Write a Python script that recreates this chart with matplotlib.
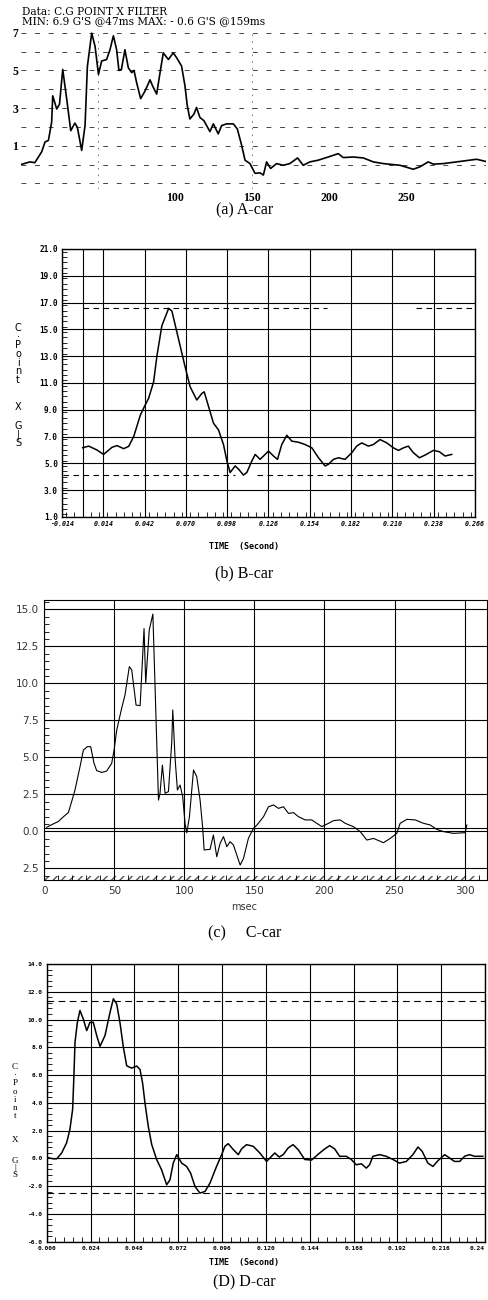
"""Four crash-pulse panels (A/B/C/D car), C.G point X deceleration, redrawn from the scan."""

import matplotlib
matplotlib.use("Agg")
import matplotlib.pyplot as plt
from matplotlib.ticker import MultipleLocator

# ---- (a) A-car : time [ms] vs G
a_t = [0, 5.8, 9, 13.4, 15.6, 17.8, 19.9, 20.6, 23.2, 25, 27.1, 29.7, 32.3, 35, 36.6, 39.4,
       41.6, 43.1, 45.9, 48.1, 50.3, 52.4, 55.6, 57.8, 60, 62.1, 63.6, 65.2, 67.5, 69.7, 71.9,
       73.4, 75.1, 77.7, 80.5, 83.8, 85.5, 88.1, 90.3, 92.4, 95.7, 98.9, 101.1, 104.3, 106.5,
       108, 109.7, 112.3, 114, 116.2, 118.8, 122.7, 124.9, 128.1, 130.3, 133.5, 137.9, 140.5,
       143.3, 145.5, 148.7, 152, 155.2, 157.4, 159.5, 162.1, 166, 170.3, 174.6, 179.6, 183.3,
       187.6, 193, 199.5, 202.8, 206, 209.3, 215.8, 222.3, 228.8, 235.3, 246.1, 254.8, 259.1,
       264.5, 267.8, 274.3, 282.9, 295.9, 302]
a_g = [0.0, 0.14, 0.1, 0.67, 1.2, 1.28, 2.25, 3.65, 2.95, 3.2, 5.05, 3.47, 1.8, 2.2, 1.98, 0.75,
       2.07, 5.2, 6.98, 6.28, 4.79, 5.5, 5.58, 6.1, 6.84, 6.1, 5.0, 5.05, 6.1, 5.14, 4.88,
       5.0, 4.35, 3.5, 3.9, 4.5, 4.17, 3.74, 4.88, 5.93, 5.58, 5.93, 5.67, 5.23, 4.17,
       3.12, 2.42, 2.68, 3.03, 2.5, 2.33, 1.75, 2.16, 1.63, 2.07, 2.16, 2.16, 1.89,
       1.02, 0.23, 0.05, -0.47, -0.44, -0.56, 0.14, -0.21, 0.05, -0.04, 0.05, 0.35, -0.04,
       0.14, 0.23, 0.4, 0.49, 0.58, 0.37, 0.4, 0.35, 0.14, 0.05, -0.04, -0.25, -0.12,
       0.14, 0.02, 0.05, 0.14, 0.28, 0.16]
a_yticks = [7, 5, 3, 1]
a_xticks = [100, 150, 200, 250]
a_title = ["Data: C.G POINT X FILTER", "MIN: 6.9 G'S @47ms MAX: - 0.6 G'S @159ms"]

# ---- (b) B-car : time [s] vs G
b_t = [0.0, 0.0041, 0.0097, 0.0142, 0.0199, 0.0233, 0.0278, 0.0312, 0.0346, 0.0391, 0.0418,
       0.0447, 0.0481, 0.0504, 0.0537, 0.0583, 0.0605, 0.065, 0.0695, 0.0729, 0.0774, 0.0808,
       0.0824, 0.0854, 0.0887, 0.0921, 0.0955, 0.0978, 0.100, 0.1034, 0.1057, 0.109, 0.1113,
       0.1147, 0.117, 0.1203, 0.126, 0.1294, 0.1321, 0.135, 0.1384, 0.1418, 0.1463, 0.1508,
       0.1554, 0.1599, 0.1644, 0.1666, 0.17, 0.1734, 0.1779, 0.1825, 0.1858, 0.1892, 0.1937,
       0.1971, 0.2016, 0.2062, 0.2107, 0.2141, 0.2175, 0.2208, 0.2242, 0.2283, 0.2321, 0.2378,
       0.2419, 0.2457, 0.2502]
b_g = [6.17, 6.29, 6.0, 5.67, 6.2, 6.33, 6.1, 6.27, 7.0, 8.6, 9.23,
       9.85, 11.08, 13.05, 15.27, 16.57, 16.37, 14.28, 12.19, 10.71, 9.73, 10.22,
       10.34, 9.23, 8.0, 7.5, 6.4, 5.18, 4.32, 4.81, 4.57, 4.13, 4.32,
       5.18, 5.67, 5.3, 5.92, 5.55, 5.3, 6.41, 7.1, 6.66, 6.58, 6.41,
       6.16, 5.42, 4.81, 4.93, 5.3, 5.42, 5.3, 5.8, 6.29, 6.53, 6.29,
       6.41, 6.78, 6.53, 6.16, 5.97, 6.16, 6.29, 5.8, 5.42, 5.62, 5.97,
       5.87, 5.55, 5.67]
b_xticks = [-0.014, 0.014, 0.042, 0.070, 0.098, 0.126, 0.154, 0.182, 0.210, 0.238, 0.266]
b_yticks = [1, 3, 5, 7, 9, 11, 13, 15, 17, 19, 21]
b_upper_level, b_upper_spans = 16.6, [(0.0, 0.166), (0.226, 0.266)]
b_lower_level, b_lower_spans = 4.15, [(-0.013, 0.103), (0.118, 0.266)]

# ---- (c) C-car : time [ms] vs G
c_t = [1.7, 6.4, 10, 13.6, 17.2, 19.5, 21.9, 25.5, 27.9, 30.7, 33.1, 35.5, 37.4, 41, 44.5,
       48.1, 49.8, 51.7, 55.2, 57.6, 60.7, 62.4, 65.5, 68.4, 71.2, 72.4, 74.9, 77.5, 81.5,
       82.6, 84.3, 86.2, 88.6, 91, 91.7, 93.3, 95, 96.9, 98.8, 100.5, 101.7, 103.6, 106.5,
       108.8, 111.2, 113, 114.1, 118.3, 120.7, 123.1, 125.5, 127.9, 130.3, 132.6, 135, 137.4,
       139.8, 142.2, 145.7, 149.3, 152, 156.5, 160, 163.6, 167.1, 170.7, 174.3, 177.9, 181.4,
       186.2, 190.9, 194.5, 198.1, 202.9, 206.4, 211.2, 214.8, 220.7, 225.5, 230.2, 235,
       242.1, 246.9, 251.6, 254, 258.8, 264.7, 270.7, 275.4, 280.2, 284.9, 292.1, 300.4, 301.6]
c_g = [0.27, 0.5, 0.66, 0.98, 1.27, 2.0, 2.79, 4.37, 5.49, 5.72, 5.72, 4.59, 4.1, 3.98, 4.07,
       4.59, 5.49, 6.84, 8.31, 9.21, 11.13, 10.9, 8.53, 8.49, 13.7, 10.0, 13.6, 14.68, 2.11,
       2.57, 4.47, 2.57, 2.68, 6.06, 8.2, 5.0, 2.79, 3.13, 2.34, 0.5, -0.1, 0.99, 4.14,
       3.7, 2.11, 0.3, -1.26, -1.22, -0.25, -1.72, -0.81, -0.36, -1.04, -0.7, -0.92, -1.6,
       -2.28, -1.83, -0.47, 0.2, 0.45, 0.99, 1.66, 1.78, 1.55, 1.66, 1.21, 1.26, 0.99,
       0.77, 0.77, 0.54, 0.32, 0.54, 0.72, 0.77, 0.54, 0.31, -0.02, -0.59, -0.48,
       -0.77, -0.48, -0.14, 0.54, 0.81, 0.77, 0.54, 0.43, 0.13, -0.02, -0.14, -0.09, 0.43]
c_xticks = [0, 50, 100, 150, 200, 250, 300]
c_yticks = [-2.5, 0, 2.5, 5, 7.5, 10, 12.5, 15]
c_ylabels = ["2.5", "0.0", "2.5", "5.0", "7.5", "10.0", "12.5", "15.0"]

# ---- (D) D-car : time [s] vs G
d_t = [0.0, 0.0036, 0.0055, 0.0082, 0.0109, 0.0127, 0.0142, 0.0149, 0.0155, 0.0168, 0.0182,
       0.02, 0.0219, 0.0237, 0.0255, 0.0274, 0.0292, 0.0319, 0.0347, 0.0365, 0.0383, 0.0401,
       0.042, 0.0438, 0.0465, 0.0493, 0.0511, 0.0525, 0.0538, 0.0556, 0.0575, 0.0602, 0.0629,
       0.0657, 0.0675, 0.0693, 0.0712, 0.0739, 0.0766, 0.0788, 0.0812, 0.0839, 0.0867, 0.0894,
       0.093, 0.0958, 0.0976, 0.0994, 0.1022, 0.1049, 0.1067, 0.1094, 0.1131, 0.1167, 0.1204,
       0.1231, 0.1249, 0.1273, 0.1295, 0.1322, 0.1349, 0.1377, 0.1413, 0.145, 0.1495, 0.1522,
       0.155, 0.1577, 0.1604, 0.1641, 0.1668, 0.1695, 0.1723, 0.175, 0.1768, 0.1786, 0.1823,
       0.1859, 0.1896, 0.1932, 0.1969, 0.2005, 0.2033, 0.2056, 0.2087, 0.2115, 0.2142, 0.2179,
       0.2206, 0.2233, 0.2261, 0.2288, 0.2315, 0.2343, 0.2388]
d_g = [0.07, -0.03, -0.03, 0.39, 1.12, 2.08, 3.53, 5.94, 8.36, 9.8, 10.65,
       10.05, 9.2, 9.8, 9.8, 8.84, 8.07, 8.84, 10.53, 11.5, 11.13, 9.8,
       7.99, 6.67, 6.5, 6.65, 6.4, 5.43, 4.0, 2.32, 1.0, -0.08, -0.82,
       -1.9, -1.54, -0.34, 0.27, -0.34, -0.58, -1.06, -2.02, -2.5, -2.38, -1.78,
       -0.58, 0.27, 0.87, 1.06, 0.63, 0.27, 0.68, 0.99, 0.87, 0.39, -0.22,
       0.15, 0.39, 0.1, 0.27, 0.75, 0.99, 0.63, -0.08, -0.12, 0.39, 0.68,
       0.92, 0.68, 0.15, 0.15, -0.08, -0.46, -0.39, -0.7, -0.46, 0.15, 0.27,
       0.15, -0.08, -0.34, -0.22, 0.27, 0.82, 0.51, -0.34, -0.58, -0.17, 0.27,
       0.03, -0.22, -0.22, 0.15, 0.27, 0.15, 0.15]
d_xticks = [0.0, 0.024, 0.048, 0.072, 0.096, 0.120, 0.144, 0.168, 0.192, 0.216, 0.24]
d_xlabels = ["0.000", "0.024", "0.048", "0.072", "0.096", "0.120", "0.144", "0.168",
             "0.192", "0.216", "0.24"]
d_yticks = [-6, -4, -2, 0, 2, 4, 6, 8, 10, 12, 14]
d_limits = [11.35, -2.5]

captions = ["(a) A-car", "(b) B-car", "(c)     C-car", "(D) D-car"]
ylabel_parts = ["C\n·\nP\no\ni\nn\nt", "X", "G\n|\nS"]

W, H = 489, 1300
SERIF = "Liberation Serif"
MONO = "DejaVu Sans Mono"

fig = plt.figure(figsize=(W / 100, H / 100), dpi=100)


def px_axes(left, top, right, bottom):
    return fig.add_axes([left / W, 1 - bottom / H, (right - left) / W, (bottom - top) / H])


def fy(py):
    return 1 - py / H


# ---------------- (a)
ax = px_axes(21, 29, 486, 189)
ax.set_xlim(0, 302)
ax.set_ylim(-1.3, 7.2)
for s in ax.spines.values():
    s.set_visible(False)
for lvl in range(-1, 8):
    ax.axhline(lvl, color="#444", lw=0.7, ls=(0, (5, 9)), zorder=1)
for xv in (50, 150):
    ax.axvline(xv, color="#666", lw=0.6, ls=(0, (2, 6)), zorder=1)
ax.plot(a_t, a_g, color="black", lw=1.2, zorder=3)
ax.set_yticks(a_yticks)
ax.set_yticklabels([str(v) for v in a_yticks], family=SERIF, fontsize=8.5, weight="bold")
ax.set_xticks(a_xticks)
ax.set_xticklabels([str(v) for v in a_xticks], family=SERIF, fontsize=8.5, weight="bold")
ax.tick_params(length=0, pad=2)
fig.text(22 / W, fy(12), a_title[0], family="DejaVu Serif", fontsize=7.6, va="center")
fig.text(22 / W, fy(21.5), a_title[1], family="DejaVu Serif", fontsize=7.6, va="center")
fig.text(0.5, fy(210), captions[0], family=SERIF, fontsize=11.5, ha="center", va="center")


def grid_panel(ax, xticks, yticks, xlabels, ylabels, xminor, yminor, xstyle, xsize, ysize):
    ax.set_xticks(xticks)
    ax.set_yticks(yticks)
    ax.set_xticklabels(xlabels, family=MONO, fontsize=xsize, weight="bold", style=xstyle)
    ax.set_yticklabels(ylabels, family=MONO, fontsize=ysize, weight="bold")
    ax.xaxis.set_minor_locator(MultipleLocator(xminor))
    ax.yaxis.set_minor_locator(MultipleLocator(yminor))
    ax.tick_params(which="major", length=0, pad=3)
    ax.tick_params(which="minor", direction="in", length=3.5, width=0.6)
    ax.grid(True, which="major", color="black", lw=0.8)
    for s in ax.spines.values():
        s.set_linewidth(1.0)


def stacked_label(x, centers, pitches, family, size):
    for part, py, pitch in zip(ylabel_parts, centers, pitches):
        fig.text(x / W, fy(py), part, family=family, fontsize=size, ha="center",
                 va="center", multialignment="center",
                 linespacing=pitch / (size * 100 / 72))


# ---------------- (b)
ax = px_axes(62, 249, 475, 517)
ax.set_xlim(-0.014, 0.266)
ax.set_ylim(1, 21)
grid_panel(ax, b_xticks, b_yticks,
           [f"{v:.3f}" for v in b_xticks], [f"{v:.1f}" for v in b_yticks],
           0.0056, 0.4, "italic", 4.8, 5.6)
ax.axvline(0.0, color="black", lw=0.8)
for x0, x1 in b_upper_spans:
    ax.plot([x0, x1], [b_upper_level] * 2, color="black", lw=0.8, ls=(0, (5, 4)))
for x0, x1 in b_lower_spans:
    ax.plot([x0, x1], [b_lower_level] * 2, color="black", lw=0.8, ls=(0, (5, 4)))
ax.plot(b_t, b_g, color="black", lw=1.1, zorder=3)
fig.text(0.5, fy(547), "TIME  (Second)", family=MONO, fontsize=6, weight="bold",
         ha="center", va="center")
stacked_label(18, [354, 407, 434.5], [8.0, 8.0, 7.2], "DejaVu Sans", 7)
fig.text(0.5, fy(573), captions[1], family=SERIF, fontsize=11.5, ha="center", va="center")

# ---------------- (c)
ax = px_axes(44.3, 600, 487, 880)
ax.set_xlim(0, 316)
ax.set_ylim(-3.29, 15.63)
ax.set_xticks(c_xticks)
ax.set_xticklabels([str(v) for v in c_xticks], fontsize=7.5, color="#333")
ax.set_yticks(c_yticks)
ax.set_yticklabels(c_ylabels, fontsize=7.5, color="#333")
ax.xaxis.set_minor_locator(MultipleLocator(10))
ax.yaxis.set_minor_locator(MultipleLocator(0.5))
ax.tick_params(which="major", length=0, pad=4)
ax.tick_params(which="minor", direction="in", length=3.5, width=0.6)
ax.grid(True, which="major", color="black", lw=0.8)
ax.axhline(0.25, color="black", lw=0.8)
ax.axhspan(-3.29, -3.05, xmax=0.98, facecolor="none", edgecolor="#555", hatch="////", lw=0)
ax.plot(c_t, c_g, color="black", lw=0.8, zorder=3)
fig.text(0.5, fy(907), "msec", fontsize=7, color="#333", ha="center", va="center")
fig.text(0.5, fy(933), captions[2], family=SERIF, fontsize=11.5, ha="center", va="center")

# ---------------- (D)
ax = px_axes(46.7, 964, 485, 1241.7)
ax.set_xlim(0, 0.24)
ax.set_ylim(-6, 14)
grid_panel(ax, d_xticks, d_yticks, d_xlabels, [f"{v:.1f}" for v in d_yticks],
           0.0048, 0.4, "normal", 4.5, 4.5)
ax.get_xticklabels()[-1].set_horizontalalignment("right")
for lvl in d_limits:
    ax.axhline(lvl, color="black", lw=0.8, ls=(0, (6, 4)))
ax.plot(d_t, d_g, color="black", lw=1.1, zorder=3)
fig.text(0.5, fy(1262), "TIME  (Second)", family=MONO, fontsize=6, weight="bold",
         ha="center", va="center")
stacked_label(15, [1091.5, 1140, 1168], [9.5, 9.5, 8.0], SERIF, 6.5)
fig.text(0.5, fy(1282), captions[3], family=SERIF, fontsize=11.5, ha="center", va="center")

fig.savefig("out.png", dpi=100)
